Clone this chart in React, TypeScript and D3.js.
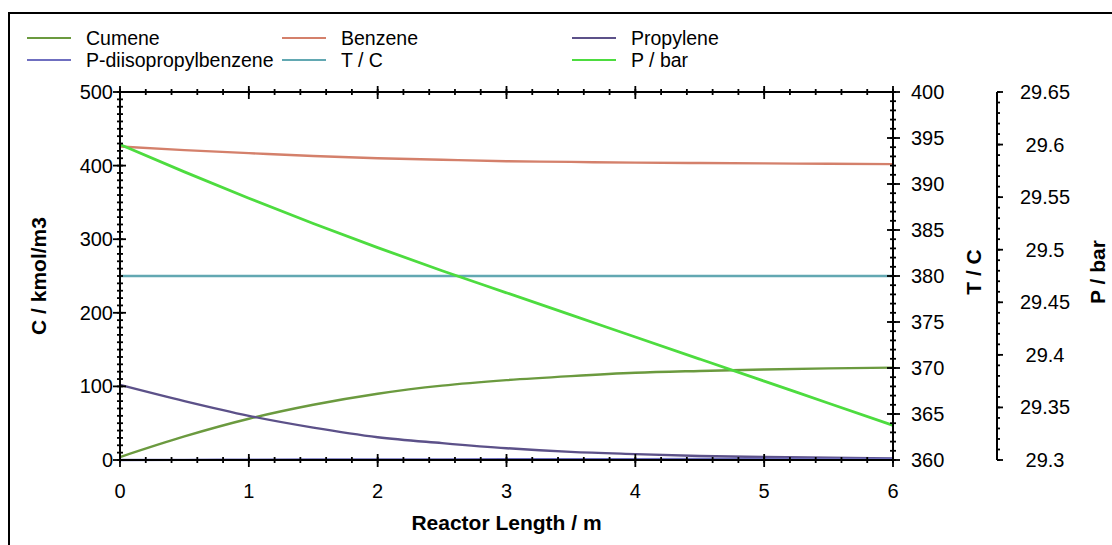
import React from "react";
import * as d3 from "d3";

const lengthM = [0, 0.5, 1, 1.5, 2, 2.5, 3, 3.5, 4, 4.5, 5, 5.5, 6];
const cumene = [4, 32, 56, 75, 90, 101, 108.5, 114, 118.5, 121, 123, 124.5, 125.5];
const benzene = [426, 421, 417, 413, 410, 408, 406, 405, 404, 403.5, 403, 402.5, 402];
const propylene = [102, 80, 60, 44, 31, 23, 16, 11, 8, 5.5, 4, 3, 2];
const dipb = [0, 0.2, 0.4, 0.6, 0.8, 0.9, 1, 1.1, 1.2, 1.3, 1.4, 1.5, 1.5];
const temperature = [380, 380, 380, 380, 380, 380, 380, 380, 380, 380, 380, 380, 380];
const pressure = [29.6, 29.574, 29.549, 29.525, 29.502, 29.48, 29.459, 29.438, 29.417, 29.396, 29.375, 29.354, 29.333];

const xTicks = [0, 1, 2, 3, 4, 5, 6];
const cTicks = [0, 100, 200, 300, 400, 500];
const tTicks = [360, 365, 370, 375, 380, 385, 390, 395, 400];
const pTicks = [29.3, 29.35, 29.4, 29.45, 29.5, 29.55, 29.6, 29.65];

const FONT = "Liberation Sans, Arial, sans-serif";

export default function App() {
  const left = 120, right = 893, top = 92, bottom = 460;
  const x = d3.scaleLinear().domain([0, 6]).range([left, right]);
  const yC = d3.scaleLinear().domain([0, 500]).range([bottom, top]);
  const yT = d3.scaleLinear().domain([360, 400]).range([bottom, top]);
  const yP = d3.scaleLinear().domain([29.3, 29.65]).range([bottom, top]);
  const pAxisX = 997;

  const mk = (vals: number[], y: d3.ScaleLinear<number, number>) =>
    d3.line<number>().x((_, i) => x(lengthM[i])).y((v) => y(v)).curve(d3.curveMonotoneX)(vals) || "";

  const series = [
    { name: "Cumene", color: "#6b9a3f", w: 2.4, d: mk(cumene, yC) },
    { name: "Benzene", color: "#d4806b", w: 2.4, d: mk(benzene, yC) },
    { name: "Propylene", color: "#5c5189", w: 2.4, d: mk(propylene, yC) },
    { name: "P-diisopropylbenzene", color: "#6f6fc0", w: 2.4, d: mk(dipb, yC) },
    { name: "T / C", color: "#62a8b2", w: 2.4, d: mk(temperature, yT) },
    { name: "P / bar", color: "#4ddc3f", w: 2.8, d: mk(pressure, yP) },
  ];

  const legendPos = [
    { lx: 27, ly: 38 }, { lx: 282, ly: 38 }, { lx: 572, ly: 38 },
    { lx: 27, ly: 60 }, { lx: 282, ly: 60 }, { lx: 572, ly: 60 },
  ];
  const legendOrder = ["Cumene", "Benzene", "Propylene", "P-diisopropylbenzene", "T / C", "P / bar"];

  const xMinor = d3.range(0, 6.0001, 0.2);
  const cMinor = d3.range(0, 500.001, 10);
  const tMinor = d3.range(360, 400.001, 1);
  const pMinor = d3.range(29.3, 29.6501, 0.01);

  const tickFont = 20;

  return (
    <svg width={1112} height={545} style={{ position: "absolute", left: 0, top: 0, background: "#fff" }} fontFamily={FONT}>
      <rect x={0} y={0} width={1112} height={545} fill="#fff" />
      <rect x={9} y={13} width={1200} height={600} fill="none" stroke="#000" strokeWidth={2} />

      {/* legend */}
      {legendOrder.map((n, i) => {
        const s = series.find((q) => q.name === n)!;
        const p = legendPos[i];
        return (
          <g key={n}>
            <line x1={p.lx} x2={p.lx + 44} y1={p.ly} y2={p.ly} stroke={s.color} strokeWidth={2.2} />
            <text x={p.lx + 59} y={p.ly + 7} fontSize={19.5} fill="#000">{n}</text>
          </g>
        );
      })}

      {/* series */}
      {series.map((s) => (
        <path key={s.name} d={s.d} fill="none" stroke={s.color} strokeWidth={s.w} />
      ))}

      {/* frame axes */}
      <g stroke="#000" strokeWidth={2}>
        <line x1={left} x2={right} y1={bottom} y2={bottom} />
        <line x1={left} x2={right} y1={top} y2={top} />
        <line x1={left} x2={left} y1={top} y2={bottom} />
        <line x1={right} x2={right} y1={top} y2={bottom} />
        <line x1={pAxisX} x2={pAxisX} y1={top} y2={bottom} />
      </g>
      <g stroke="#000" strokeWidth={1.8}>
        {xMinor.map((v, i) => (
          <g key={"xm" + i}>
            <line x1={x(v)} x2={x(v)} y1={bottom - 3} y2={bottom + 3} />
            <line x1={x(v)} x2={x(v)} y1={top - 3} y2={top + 3} />
          </g>
        ))}
        {xTicks.map((v) => (
          <g key={"xt" + v}>
            <line x1={x(v)} x2={x(v)} y1={bottom - 6} y2={bottom + 7} />
            <line x1={x(v)} x2={x(v)} y1={top - 6} y2={top + 7} />
          </g>
        ))}
        {cMinor.map((v, i) => (
          <line key={"cm" + i} x1={left - 3} x2={left + 3} y1={yC(v)} y2={yC(v)} />
        ))}
        {cTicks.map((v) => (
          <line key={"ct" + v} x1={left - 7} x2={left + 6} y1={yC(v)} y2={yC(v)} />
        ))}
        {tMinor.map((v, i) => (
          <line key={"tm" + i} x1={right - 3} x2={right + 3} y1={yT(v)} y2={yT(v)} />
        ))}
        {tTicks.map((v) => (
          <line key={"tt" + v} x1={right - 6} x2={right + 7} y1={yT(v)} y2={yT(v)} />
        ))}
        {pMinor.map((v, i) => (
          <line key={"pm" + i} x1={pAxisX} x2={pAxisX + 3} y1={yP(v)} y2={yP(v)} />
        ))}
        {pTicks.map((v) => (
          <line key={"pt" + v} x1={pAxisX} x2={pAxisX + 6} y1={yP(v)} y2={yP(v)} />
        ))}
      </g>

      {/* tick labels */}
      <g fontSize={tickFont} fill="#000">
        {xTicks.map((v) => (
          <text key={"xl" + v} x={x(v)} y={bottom + 38} textAnchor="middle">{v}</text>
        ))}
        {cTicks.map((v) => (
          <text key={"cl" + v} x={left - 7} y={yC(v) + 7} textAnchor="end">{v}</text>
        ))}
        {tTicks.map((v) => (
          <text key={"tl" + v} x={right + 18} y={yT(v) + 7} textAnchor="start">{v}</text>
        ))}
        {pTicks.map((v) => (
          <text key={"pl" + v} x={pAxisX + 48} y={yP(v) + 7} textAnchor="middle">{+v.toFixed(2)}</text>
        ))}
      </g>

      {/* axis titles */}
      <g fontSize={21} fontWeight="bold" fill="#000">
        <text x={(left + right) / 2} y={530} textAnchor="middle">Reactor Length / m</text>
        <text transform={`translate(46,${(top + bottom) / 2}) rotate(-90)`} textAnchor="middle">C / kmol/m3</text>
        <text transform={`translate(981,${(top + bottom) / 2 - 4}) rotate(-90)`} textAnchor="middle">T / C</text>
        <text transform={`translate(1105,${(top + bottom) / 2 - 4}) rotate(-90)`} textAnchor="middle">P / bar</text>
      </g>
    </svg>
  );
}
